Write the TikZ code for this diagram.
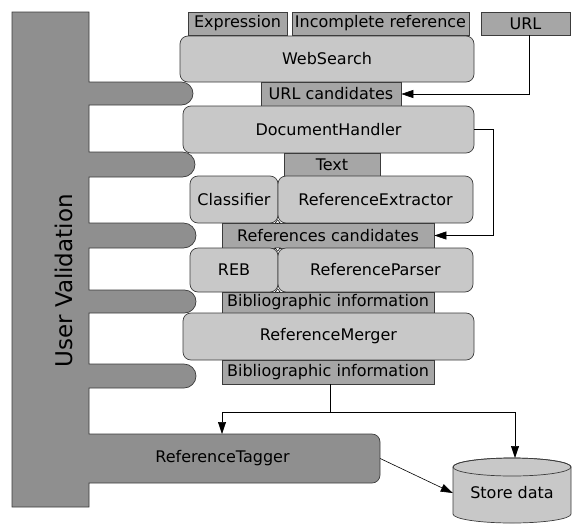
\documentclass[tikz,border=0pt]{standalone}
\usepackage{fontspec}
\setmainfont{DejaVu Sans}
\usepackage{tikz}
\usetikzlibrary{arrows.meta}
\definecolor{barGray}{RGB}{143,143,143}
\definecolor{tagGray}{RGB}{166,166,166}
\definecolor{boxGray}{RGB}{200,200,200}
\definecolor{lineGray}{RGB}{60,60,60}
\tikzset{
    every node/.style={font=\fontsize{16}{19}\selectfont, inner sep=0pt},
    databox/.style={draw=lineGray, fill=tagGray, line width=0.7pt},
    modbox/.style={draw=lineGray, fill=boxGray, line width=0.7pt, rounded corners=8pt},
    arr/.style={-{Triangle[length=12pt,width=8pt]}, line width=0.6pt},
    hook/.style={-{Triangle[length=4pt,width=6pt,fill=white]}, line width=0.5pt}
}

\begin{document}
\begin{tikzpicture}[x=1pt, y=-1pt]
    \useasboundingbox (0,0) rectangle (572,525);

    % User validation bar with its fingers and the tagger
    \filldraw[fill=barGray, draw=lineGray, line width=0.7pt] (12,12) -- (89,12)
        \foreach \top/\bot/\tip in {82/105/193, 152/177/195, 223/248/196, 290/313/196, 364/388/196} {
            -- (89,\top) -- ({\tip-(\bot-\top)/2},\top)
            arc[start angle=-90, end angle=90, radius={(\bot-\top)/2}]
            -- (89,\bot)
        }
        -- (89,434) -- (372,434) arc[start angle=-90, end angle=0, radius=8]
        -- (380,475) arc[start angle=0, end angle=90, radius=8]
        -- (89,483) -- (89,507) -- (12,507) -- cycle;
    \node[rotate=90, font=\fontsize{23}{27}\selectfont] (uv) at (64,281) {User Validation};
    \node[minimum width=291, minimum height=49] (tagger) at (234.5,458.5) {\hspace*{-24pt}ReferenceTagger};

    % Inputs
    \node[databox, minimum width=99, minimum height=23] (expr) at (237.5,23.5) {Expression};
    \node[databox, minimum width=177, minimum height=23] (incref) at (380.5,23.5) {Incomplete reference};
    \node[databox, minimum width=89, minimum height=23] (url) at (525.5,23.5) {URL};

    % Modules and the data between them
    \node[modbox, minimum width=294, minimum height=46] (web) at (327,59) {WebSearch};
    \node[databox, minimum width=140, minimum height=24] (urlcand) at (331,94) {URL candidates};
    \node[modbox, minimum width=291, minimum height=47] (doc) at (328.5,129.5) {DocumentHandler};
    \node[databox, minimum width=96, minimum height=23] (text) at (332,164.5) {Text};
    \node[modbox, minimum width=88, minimum height=47] (classif) at (234,199.5) {Classifier};
    \node[modbox, minimum width=195, minimum height=47] (refext) at (375.5,199.5) {ReferenceExtractor};
    \node[databox, minimum width=212, minimum height=25] (refcand) at (328,235.5) {References candidates};
    \node[modbox, minimum width=88, minimum height=44] (reb) at (234,270) {REB};
    \node[modbox, minimum width=195, minimum height=44] (parser) at (375.5,270) {ReferenceParser};
    \node[databox, minimum width=212, minimum height=21] (bib1) at (328,302.5) {Bibliographic information};
    \node[modbox, minimum width=291, minimum height=47] (merger) at (328.5,336.5) {ReferenceMerger};
    \node[databox, minimum width=212, minimum height=24] (bib2) at (328,372) {Bibliographic information};

    % Store data cylinder
    \filldraw[fill=boxGray, draw=lineGray, line width=0.7pt] (453,467) -- (453,514)
        arc[start angle=180, end angle=0, x radius=59, y radius=9]
        -- (571,467) arc[start angle=0, end angle=-180, x radius=59, y radius=9];
    \draw[lineGray, line width=0.7pt] (512,467) ellipse[x radius=59, y radius=9];
    \node[minimum width=118, minimum height=47] (store) at (512,493) {Store data};

    % Connectors
    \coordinate (split) at (330,412);
    \coordinate (tagtop) at (222,434);
    \coordinate (storetop) at (515,458);
    \draw[arr] ([xshift=4pt]url.south) |- (urlcand.east);
    \draw[arr] (doc.east) -- ++(19,0) |- (refcand.east);
    \draw[line width=0.6pt] (bib2.south -| split) -- (split);
    \draw[arr] (split) -| (tagtop);
    \draw[arr] (split) -| (storetop);
    \draw[arr] (tagger.east) -- (store.west);

    % Small hooks at the module joints
    \draw[hook] (refext.south west) -- ++(0,-4);
    \draw[hook] (parser.north west) -- ++(0,4);
    \draw[hook] (parser.south west) -- ++(0,-4);
\end{tikzpicture}
\end{document}
